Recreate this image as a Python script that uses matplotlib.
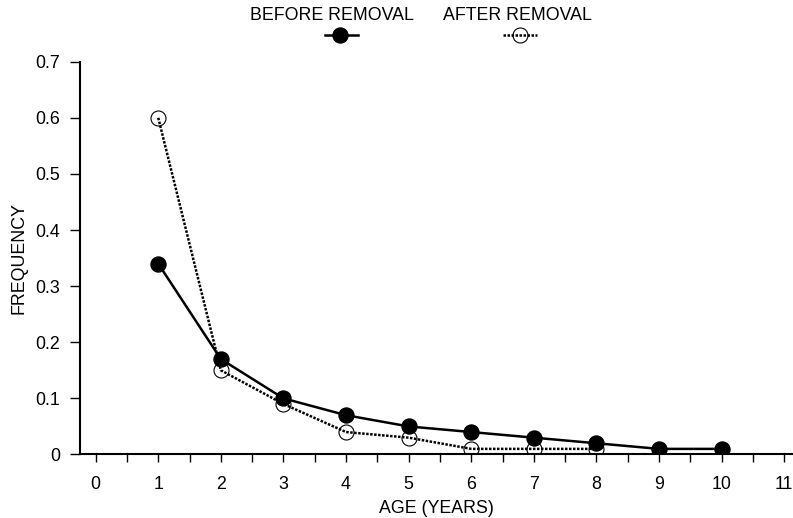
import matplotlib
matplotlib.use("Agg")
import matplotlib.pyplot as plt
from matplotlib.lines import Line2D
from matplotlib.ticker import MultipleLocator

plt.rcParams["font.family"] = ["Liberation Sans", "DejaVu Sans"]
plt.rcParams["font.size"] = 12.8

# data
ages_before = [1, 2, 3, 4, 5, 6, 7, 8, 9, 10]
freq_before = [0.34, 0.17, 0.10, 0.07, 0.05, 0.04, 0.03, 0.02, 0.01, 0.01]
ages_after = [1, 2, 3, 4, 5, 6, 7, 8]
freq_after = [0.60, 0.15, 0.09, 0.04, 0.03, 0.01, 0.01, 0.01]
x_ticks = list(range(0, 12))
y_ticks = [0, 0.1, 0.2, 0.3, 0.4, 0.5, 0.6, 0.7]
y_tick_labels = ["0", "0.1", "0.2", "0.3", "0.4", "0.5", "0.6", "0.7"]

fig = plt.figure(figsize=(7.93, 5.18), dpi=100)
ax = fig.add_axes([0.1009, 0.1226, 0.8991, 0.7583])

solid_style = dict(color="black", linestyle="-", linewidth=1.8,
                   marker="o", markersize=10.8, markerfacecolor="black",
                   markeredgecolor="black")
open_style = dict(color="black", linestyle=(0, (1, 0.6)), linewidth=1.8,
                  marker="o", markersize=10.8, markerfacecolor="none",
                  markeredgecolor="black", markeredgewidth=0.8)

ax.plot(ages_after, freq_after, zorder=2, **open_style)
ax.plot(ages_before, freq_before, zorder=3, **solid_style)

ax.set_xlim(-0.25, 11.14)
ax.set_ylim(0, 0.7)
ax.set_xticks(x_ticks)
ax.xaxis.set_minor_locator(MultipleLocator(0.5))
ax.set_yticks(y_ticks)
ax.set_yticklabels(y_tick_labels)

for side in ["top", "right"]:
    ax.spines[side].set_visible(False)
for side in ["left", "bottom"]:
    ax.spines[side].set_linewidth(1.5)

ax.tick_params(axis="y", direction="out", length=7.2, width=1, pad=7)
ax.tick_params(axis="x", which="both", direction="out", length=5.8,
               width=1, pad=9.5)

ax.set_xlabel("AGE (YEARS)", labelpad=5)
ax.set_ylabel("FREQUENCY", labelpad=6)

# legend drawn above the plot: labels over the sample lines
legend_items = [
    ("BEFORE REMOVAL", 0.4187, 0.4098, 0.4515, 0.4288, solid_style),
    ("AFTER REMOVAL", 0.653, 0.6343, 0.6772, 0.6557, open_style),
]
for label, tx, x0, x1, xm, style in legend_items:
    fig.text(tx, 0.971, label, ha="center", va="center")
    line_style = {k: v for k, v in style.items() if not k.startswith("marker")}
    fig.add_artist(Line2D([x0, x1], [0.9324, 0.9324], transform=fig.transFigure,
                          **line_style))
    mark_style = dict(style)
    mark_style["linestyle"] = "none"
    fig.add_artist(Line2D([xm], [0.9324], transform=fig.transFigure,
                          **mark_style))

fig.savefig("out.png", dpi=100)
plt.close(fig)
